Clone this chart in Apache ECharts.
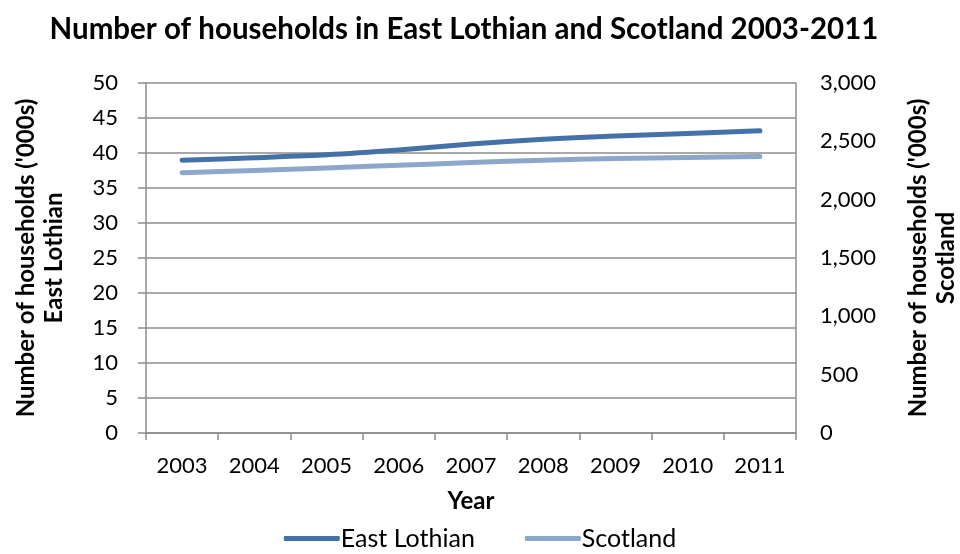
<!DOCTYPE html>
<html>
<head>
<meta charset="utf-8">
<script src="https://cdn.jsdelivr.net/npm/echarts@6/dist/echarts.min.js"></script>
<style>
  html, body { margin: 0; padding: 0; background: #fff; }
  #chart { width: 960px; height: 554px; }
</style>
</head>
<body>
<div id="chart"></div>
<script>
// Households ('000s), 2003-2011
const years = ['2003', '2004', '2005', '2006', '2007', '2008', '2009', '2010', '2011'];
const eastLothian = [38.96, 39.33, 39.74, 40.42, 41.27, 41.97, 42.42, 42.80, 43.18];
const scotland = [2231, 2250, 2272, 2295, 2318, 2338, 2353, 2362, 2370];
const leftTicks = { min: 0, max: 50, interval: 5 };
const rightTicks = { min: 0, max: 3000, interval: 500 };

const FONT = 'Lato, "Open Sans", sans-serif';
const AXIS_GREY = '#8c8c8c';

const chart = echarts.init(document.getElementById('chart'), null, { renderer: 'canvas' });

chart.setOption({
  animation: false,
  textStyle: { fontFamily: FONT, color: '#000' },
  title: {
    text: 'Number of households in East Lothian and Scotland 2003-2011',
    left: 459,
    textAlign: 'center',
    top: 9,
    textStyle: { fontFamily: FONT, fontWeight: 'bold', fontSize: 29.5, color: '#000' }
  },
  legend: {
    bottom: -2,
    left: 'center',
    itemWidth: 56,
    itemHeight: 5,
    itemGap: 50,
    icon: 'roundRect',
    textStyle: { fontFamily: FONT, fontSize: 25, color: '#000', padding: [0, 0, 0, -4] },
    data: ['East Lothian', 'Scotland']
  },
  grid: { left: 146, right: 164, top: 83, bottom: 121, containLabel: false, outerBoundsMode: 'none' },
  xAxis: {
    type: 'category',
    data: years,
    boundaryGap: true,
    name: 'Year',
    nameLocation: 'middle',
    nameGap: 56,
    nameTextStyle: { fontFamily: FONT, fontWeight: 'bold', fontSize: 24, color: '#000' },
    axisLine: { lineStyle: { color: AXIS_GREY, width: 1.5 } },
    axisTick: { show: true, length: 7, interval: 0, lineStyle: { color: AXIS_GREY, width: 1.5 } },
    axisLabel: { fontFamily: FONT, fontSize: 22, color: '#000', margin: 22, interval: 0 }
  },
  yAxis: [
    {
      type: 'value',
      position: 'left',
      min: leftTicks.min,
      max: leftTicks.max,
      interval: leftTicks.interval,
      name: "Number of households ('000s)\nEast Lothian",
      nameLocation: 'middle',
      nameRotate: 90,
      nameGap: 78,
      nameTextStyle: { fontFamily: FONT, fontWeight: 'bold', fontSize: 24, color: '#000', lineHeight: 28, align: 'center' },
      axisLine: { show: true, lineStyle: { color: AXIS_GREY, width: 1.5 } },
      axisTick: { show: true, length: 8, lineStyle: { color: AXIS_GREY, width: 1.5 } },
      axisLabel: { fontFamily: FONT, fontSize: 22, color: '#000', margin: 28 },
      splitLine: { show: true, lineStyle: { color: AXIS_GREY, width: 1.5 } }
    },
    {
      type: 'value',
      position: 'right',
      min: rightTicks.min,
      max: rightTicks.max,
      interval: rightTicks.interval,
      name: "Number of households ('000s)\nScotland",
      nameLocation: 'middle',
      nameRotate: 90,
      nameGap: 108,
      nameTextStyle: { fontFamily: FONT, fontWeight: 'bold', fontSize: 24, color: '#000', lineHeight: 28, align: 'center' },
      axisLine: { show: true, lineStyle: { color: AXIS_GREY, width: 1.5 } },
      axisTick: { show: false },
      axisLabel: {
        fontFamily: FONT, fontSize: 22, color: '#000', margin: 24,
        formatter: v => v.toLocaleString('en-GB')
      },
      splitLine: { show: false }
    }
  ],
  series: [
    {
      name: 'East Lothian',
      type: 'line',
      yAxisIndex: 0,
      data: eastLothian,
      smooth: 0.25,
      symbol: 'none',
      color: '#4571a9',
      lineStyle: { width: 5, color: '#4571a9', cap: 'round', join: 'round' },
      z: 3
    },
    {
      name: 'Scotland',
      type: 'line',
      yAxisIndex: 1,
      data: scotland,
      smooth: 0.25,
      symbol: 'none',
      color: '#8da6cc',
      lineStyle: { width: 5, color: '#8da6cc', cap: 'round', join: 'round' },
      z: 2
    }
  ]
});
</script>
</body>
</html>
